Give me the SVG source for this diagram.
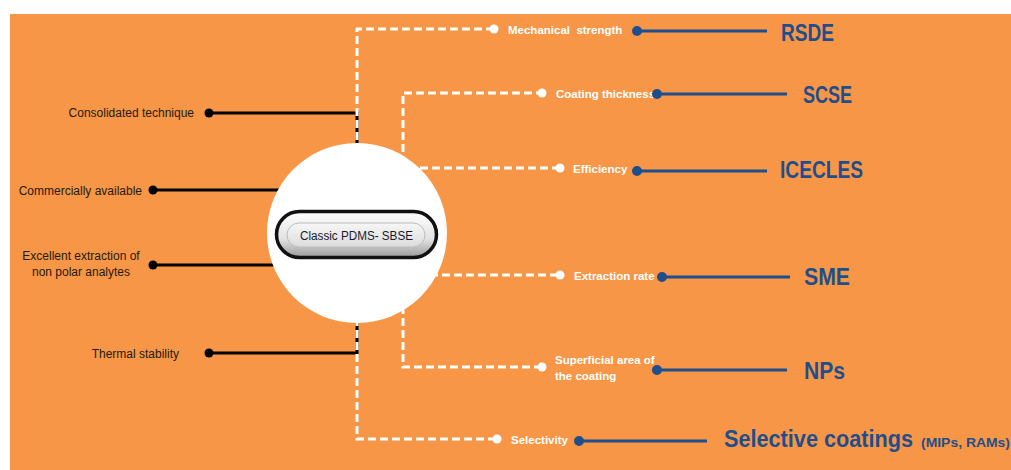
<svg xmlns="http://www.w3.org/2000/svg" width="1011" height="470" viewBox="0 0 1011 470">
<defs>
<style>
.bg{fill:#F79646}
.blk{stroke:#000;stroke-width:3;fill:none}
.wd{stroke:#fff;stroke-width:3;fill:none;stroke-dasharray:8 4}
.bl{stroke:#1F4E8C;stroke-width:3;fill:none}
.ldot{fill:#000}
.wdot{fill:#fff}
.bdot{fill:#1F4E8C}
.lt{font-family:"Liberation Sans",Arial,sans-serif;font-size:12px;fill:#231a10}
.rt{font-family:"Liberation Sans",Arial,sans-serif;font-size:11.5px;font-weight:bold;fill:#fff;white-space:pre}
.big{font-family:"Liberation Sans",Arial,sans-serif;font-size:23px;font-weight:bold;fill:#1F4E8C}
.sm{font-family:"Liberation Sans",Arial,sans-serif;font-size:13px;font-weight:bold;fill:#1F4E8C}
.ct{font-family:"Liberation Sans",Arial,sans-serif;font-size:12.5px;fill:#1a1a2a}
</style>
<linearGradient id="g1" x1="0" y1="0" x2="0" y2="1">
<stop offset="0" stop-color="#ffffff"/>
<stop offset="0.6" stop-color="#e2e2e2"/>
<stop offset="1" stop-color="#9a9a9a"/>
</linearGradient>
<linearGradient id="g2" x1="0" y1="0" x2="0" y2="1">
<stop offset="0" stop-color="#f7f7f7"/>
<stop offset="1" stop-color="#dcdcdc"/>
</linearGradient>
</defs>
<rect x="0" y="0" width="1011" height="470" fill="#fff"/>
<rect class="bg" x="10" y="14" width="1001" height="456"/>

<g id="connectors">
<path class="blk" d="M209 113H357V353H209"/>
<path class="blk" d="M153 190H290"/>
<path class="blk" d="M153 265H290"/>
<path class="wd" d="M357 200V29H494"/>
<path class="wd" d="M403 200V93H542"/>
<path class="wd" d="M420 168H560"/>
<path class="wd" d="M430 275H560"/>
<path class="wd" d="M403 270V367H542"/>
<path class="wd" d="M357 270V439H497"/>
<path class="bl" d="M637 31H767"/>
<path class="bl" d="M657 94H787"/>
<path class="bl" d="M637 171H767"/>
<path class="bl" d="M662 277H790"/>
<path class="bl" d="M657 370H787"/>
<path class="bl" d="M579 441H707"/>
</g>

<g id="center">
<circle cx="357" cy="233" r="90" fill="#fff"/>
<rect x="276.5" y="211.5" width="160" height="46" rx="23" fill="url(#g1)" stroke="#111" stroke-width="3.5"/>
<rect x="287" y="223" width="138" height="24" rx="12" fill="url(#g2)" stroke="#bdbdbd" stroke-width="1"/>
<text class="ct" x="300" y="240" textLength="113" lengthAdjust="spacingAndGlyphs">Classic PDMS- SBSE</text>
</g>

<g id="left-consolidated">
<circle class="ldot" cx="209" cy="113" r="4.5"/>
<text class="lt" x="194" y="117" text-anchor="end">Consolidated technique</text>
</g>
<g id="left-commercial">
<circle class="ldot" cx="153" cy="190" r="4.5"/>
<text class="lt" x="142" y="195" text-anchor="end">Commercially available</text>
</g>
<g id="left-excellent">
<circle class="ldot" cx="153" cy="265" r="4.5"/>
<text class="lt" x="81" y="260" text-anchor="middle">Excellent extraction of</text>
<text class="lt" x="81" y="276" text-anchor="middle">non polar analytes</text>
</g>
<g id="left-thermal">
<circle class="ldot" cx="209" cy="353" r="4.5"/>
<text class="lt" x="179" y="357.5" text-anchor="end">Thermal stability</text>
</g>

<g id="mechanical">
<circle class="wdot" cx="494" cy="29" r="4.5"/>
<text class="rt" x="508" y="33.5">Mechanical  strength</text>
</g>
<g id="coating-thickness">
<circle class="wdot" cx="542" cy="93" r="4.5"/>
<text class="rt" x="556" y="97.5">Coating thickness</text>
</g>
<g id="efficiency">
<circle class="wdot" cx="560" cy="168" r="4.5"/>
<text class="rt" x="573" y="172.5">Efficiency</text>
</g>
<g id="extraction-rate">
<circle class="wdot" cx="560" cy="275" r="4.5"/>
<text class="rt" x="574" y="279.5">Extraction rate</text>
</g>
<g id="superficial">
<circle class="wdot" cx="542" cy="367" r="4.5"/>
<text class="rt" x="555" y="364">Superficial area of</text>
<text class="rt" x="555" y="380">the coating</text>
</g>
<g id="selectivity">
<circle class="wdot" cx="497" cy="439" r="4.5"/>
<text class="rt" x="511" y="443.5">Selectivity</text>
</g>

<g id="rsde">
<circle class="bdot" cx="637" cy="31" r="5"/>
<text class="big" x="781" y="41" textLength="53" lengthAdjust="spacingAndGlyphs">RSDE</text>
</g>
<g id="scse">
<circle class="bdot" cx="657" cy="94" r="5"/>
<text class="big" x="803" y="103" textLength="49" lengthAdjust="spacingAndGlyphs">SCSE</text>
</g>
<g id="icecles">
<circle class="bdot" cx="637" cy="171" r="5"/>
<text class="big" x="780" y="178" textLength="83" lengthAdjust="spacingAndGlyphs">ICECLES</text>
</g>
<g id="sme">
<circle class="bdot" cx="662" cy="277" r="5"/>
<text class="big" x="804" y="285" textLength="46" lengthAdjust="spacingAndGlyphs">SME</text>
</g>
<g id="nps">
<circle class="bdot" cx="657" cy="370" r="5"/>
<text class="big" x="804" y="379" textLength="41" lengthAdjust="spacingAndGlyphs">NPs</text>
</g>
<g id="selective-coatings">
<circle class="bdot" cx="579" cy="441" r="5"/>
<text class="big" x="724" y="447" textLength="189" lengthAdjust="spacingAndGlyphs">Selective coatings</text>
<text class="sm" x="921" y="447" textLength="89" lengthAdjust="spacingAndGlyphs">(MIPs, RAMs)</text>
</g>
</svg>
